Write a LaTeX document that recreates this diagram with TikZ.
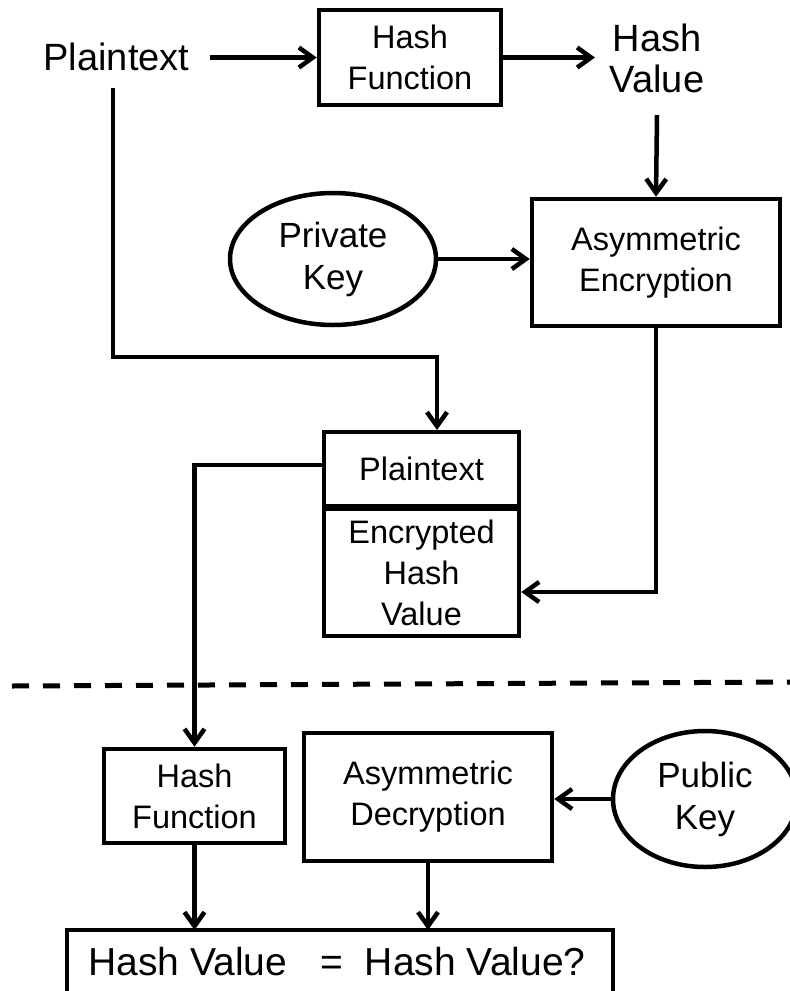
\documentclass[tikz,border=0pt]{standalone}
\usepackage{fontspec}
\setmainfont{Liberation Sans}
\usetikzlibrary{arrows.meta,shapes.geometric}

\tikzset{
  boxtxt/.style={font=\fontsize{32.5}{41}\selectfont, align=center},
  blk/.style={draw, line width=4.5pt, rectangle, inner sep=0pt, boxtxt},
  oval/.style={draw, line width=4.5pt, ellipse, inner sep=0pt, align=center,
    font=\fontsize{35}{42}\selectfont},
  lbl/.style={inner sep=0pt, align=center},
  arr/.style={line width=4.5pt, -{Straight Barb[length=14pt,width=20pt]}},
  wire/.style={line width=4.5pt},
  sep/.style={line width=5pt, dash pattern=on 17pt off 14pt}
}

\begin{document}
\begin{tikzpicture}[x=1pt, y=-1pt]
  \useasboundingbox (0,0) rectangle (790,991);
  \clip (0,0) rectangle (790,991);

  % signing side
  \node[lbl, font=\fontsize{38}{46}\selectfont, anchor=base] (ptxt) at (116.5,70) {Plaintext};
  \node[blk, minimum width=182pt, minimum height=95pt] (hf1) at (410,57.5) {Hash\\Function};
  \node[lbl, font=\fontsize{38}{41}\selectfont] (hv) at (657,58) {Hash\\Value};
  \node[blk, minimum width=248pt, minimum height=127pt] (ae) at (656,262.5) {Asymmetric\\Encryption};
  \node[oval, minimum width=206pt, minimum height=132pt] (pk) at (333,259) {Private\\Key};

  % signed message: plaintext + encrypted hash (borders overlap at the divider)
  \node[blk, minimum width=195pt, minimum height=74pt] (pt) at (421.5,469) {Plaintext};
  \node[blk, minimum width=195pt, minimum height=127pt, anchor=north] (ehv) at ([yshift=1.5pt]pt.south) {Encrypted\\Hash\\Value};

  % verification side
  \node[blk, minimum width=181pt, minimum height=94pt] (hf2) at (194.5,796) {Hash\\Function};
  \node[blk, minimum width=248pt, minimum height=128pt] (ad) at (428,797) {Asymmetric\\Decryption};
  \node[oval, minimum width=184pt, minimum height=136pt] (pub) at (705,799) {Public\\Key};
  \draw[wire] (67,1010) -- (67,930) -- (613,930) -- (613,1010);
  \coordinate (cmp) at (340,930);
  \node[lbl, font=\fontsize{39}{46}\selectfont, anchor=base] (eq) at (337,975)
    {Hash Value\hspace{33pt}=\hspace{22pt}Hash Value?};

  % connectors
  \coordinate (hvtop) at (657,115);
  \coordinate (hvin) at (595,57.5);
  \coordinate (ptdown) at (113,88);
  \draw[arr] ([xshift=20pt]ptxt.east |- hf1.west) -- (hf1.west);
  \draw[arr] (hf1.east) -- (hvin);
  \draw[arr] (hvtop) -- (ae.north);
  \draw[arr] (pk.east) -- (pk.east -| ae.west);
  \draw[arr] (ptdown) |- (437,357) -- (437,430);
  \draw[arr] (ae.south) |- (ehv.east |- 0,592);
  \draw[arr] (pt.west |- 0,465) -| (hf2.north);
  \draw[arr] (pub.west) -- (pub.west -| ad.east);
  \draw[arr] (hf2.south) -- (hf2.south |- cmp);
  \draw[arr] (ad.south) -- (ad.south |- cmp);

  % boundary between sender and receiver
  \draw[sep] (12,686) -- (795,682);
\end{tikzpicture}
\end{document}
